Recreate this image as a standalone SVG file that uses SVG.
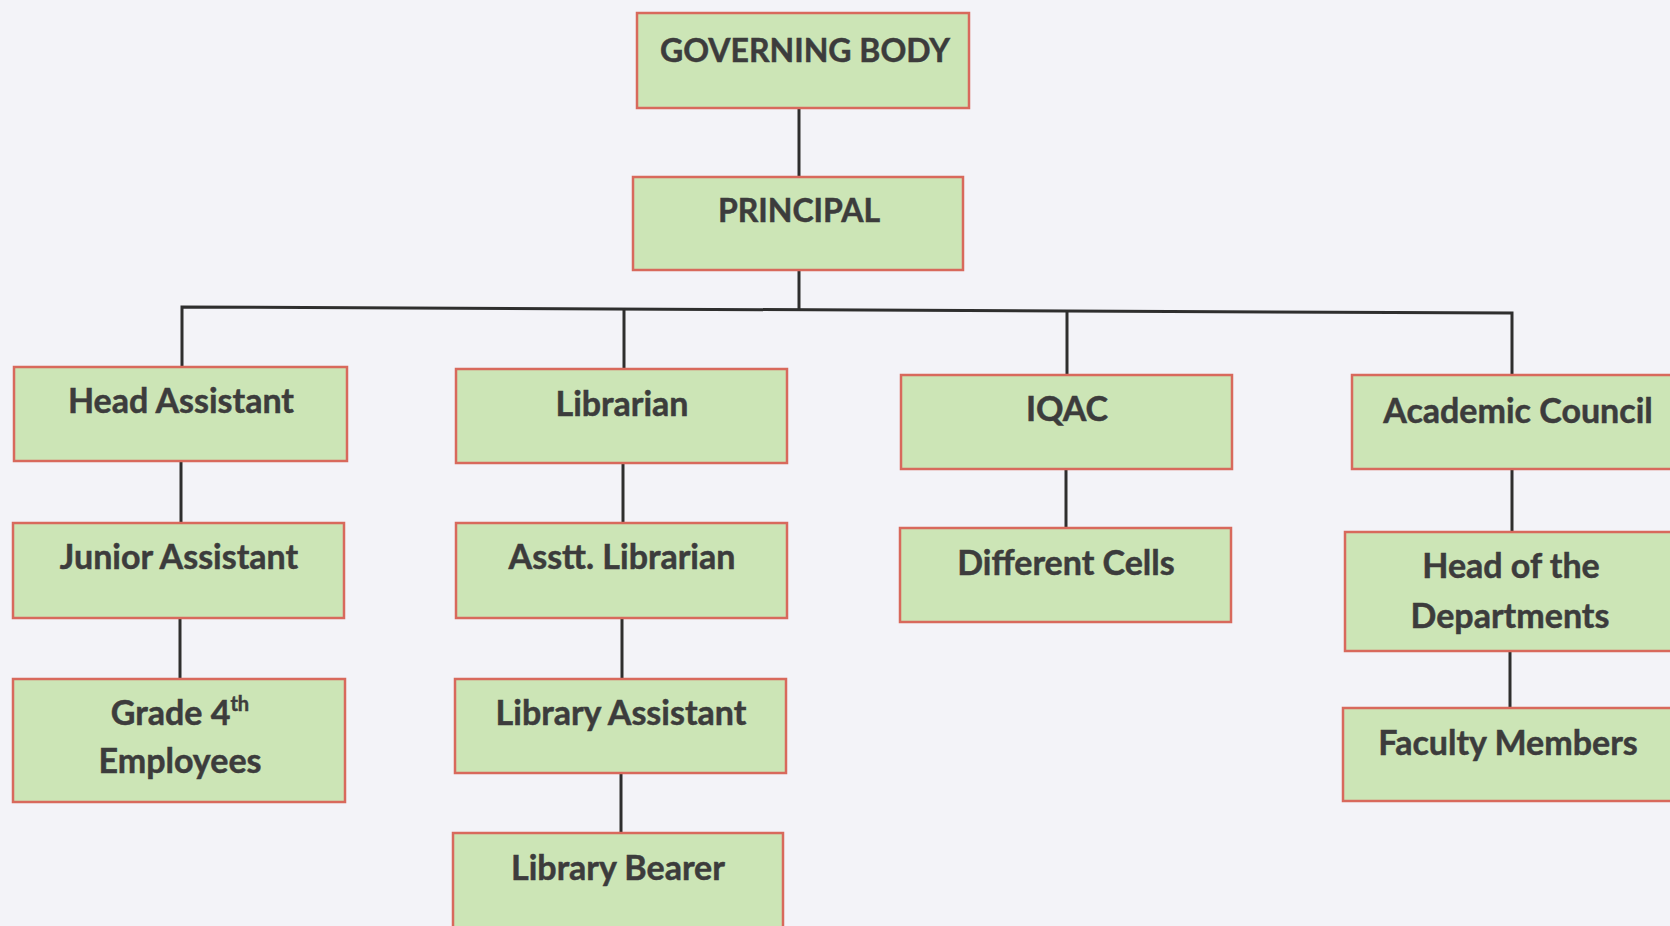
<svg xmlns="http://www.w3.org/2000/svg" width="1670" height="926" viewBox="0 0 1670 926">
<style>
.bg{fill:#f3f3f8}
.box{fill:#cce5b6;stroke:#d8695c;stroke-width:2.5}
.lbl{font-family:Lato,"Liberation Sans",sans-serif;font-weight:bold;font-size:34px;fill:#3c3c3c;stroke:#3c3c3c;stroke-width:0.5;text-anchor:middle}
.cap{font-size:32px}
.sup{font-size:20px}
.con{stroke:#2e2e2e;stroke-width:3;fill:none}
</style>
<rect class="bg" x="0" y="0" width="1670" height="926"/>
<g id="connectors">
<line class="con" x1="799" y1="108" x2="799" y2="177"/>
<line class="con" x1="799" y1="270" x2="799" y2="310"/>
<polyline class="con" points="182,367 182,307 1512,313 1512,375"/>
<line class="con" x1="624" y1="309" x2="624" y2="369"/>
<line class="con" x1="1067" y1="312" x2="1067" y2="375"/>
<line class="con" x1="181" y1="461" x2="181" y2="523"/>
<line class="con" x1="180" y1="618" x2="180" y2="679"/>
<line class="con" x1="623" y1="463" x2="623" y2="523"/>
<line class="con" x1="622" y1="618" x2="622" y2="679"/>
<line class="con" x1="621" y1="773" x2="621" y2="833"/>
<line class="con" x1="1066" y1="469" x2="1066" y2="528"/>
<line class="con" x1="1512" y1="469" x2="1512" y2="532"/>
<line class="con" x1="1510" y1="651" x2="1510" y2="708"/>
</g>
<g id="governing-body"><rect class="box" x="637" y="13" width="332" height="95"/><text class="lbl cap" x="805" y="62">GOVERNING BODY</text></g>
<g id="principal"><rect class="box" x="633" y="177" width="330" height="93"/><text class="lbl cap" x="799" y="222">PRINCIPAL</text></g>
<g id="head-assistant"><rect class="box" x="14" y="367" width="333" height="94"/><text class="lbl" x="181" y="413">Head Assistant</text></g>
<g id="junior-assistant"><rect class="box" x="13" y="523" width="331" height="95"/><text class="lbl" x="179" y="569">Junior Assistant</text></g>
<g id="grade-4th"><rect class="box" x="13" y="679" width="332" height="123"/><text class="lbl" x="180" y="725">Grade 4<tspan class="sup" dy="-14">th</tspan></text><text class="lbl" x="180" y="773">Employees</text></g>
<g id="librarian"><rect class="box" x="456" y="369" width="331" height="94"/><text class="lbl" x="622" y="416">Librarian</text></g>
<g id="asstt-librarian"><rect class="box" x="456" y="523" width="331" height="95"/><text class="lbl" x="622" y="569">Asstt. Librarian</text></g>
<g id="library-assistant"><rect class="box" x="455" y="679" width="331" height="94"/><text class="lbl" x="621" y="725">Library Assistant</text></g>
<g id="library-bearer"><rect class="box" x="453" y="833" width="330" height="110"/><text class="lbl" x="618" y="880">Library Bearer</text></g>
<g id="iqac"><rect class="box" x="901" y="375" width="331" height="94"/><text class="lbl" x="1067" y="421">IQAC</text></g>
<g id="different-cells"><rect class="box" x="900" y="528" width="331" height="94"/><text class="lbl" x="1066" y="575">Different Cells</text></g>
<g id="academic-council"><rect class="box" x="1352" y="375" width="340" height="94"/><text class="lbl" x="1518" y="423">Academic Council</text></g>
<g id="head-of-departments"><rect class="box" x="1345" y="532" width="347" height="119"/><text class="lbl" x="1511" y="578">Head of the</text><text class="lbl" x="1510" y="628">Departments</text></g>
<g id="faculty-members"><rect class="box" x="1343" y="708" width="349" height="93"/><text class="lbl" x="1508" y="755">Faculty Members</text></g>
</svg>
